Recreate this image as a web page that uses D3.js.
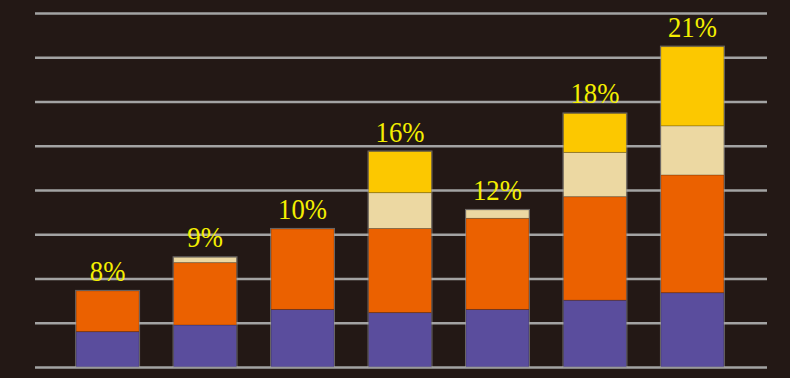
<!DOCTYPE html>
<html>
<head>
<meta charset="utf-8">
<script src="https://cdn.jsdelivr.net/npm/d3@7"></script>
<style>
  html, body { margin: 0; padding: 0; background: #231815; }
  svg { display: block; }
</style>
</head>
<body>
<div id="chart"></div>
<script>
// bar data (one grid step = 10)
var categories = ["A", "B", "C", "D", "E", "F", "G"];
var purple = [8.0, 9.5, 13.0, 12.3, 13.0, 15.1, 16.8];
var orange = [9.2, 14.1, 18.2, 19.0, 20.6, 23.4, 26.6];
var beige  = [0,   1.2, 0,    8.1,  1.9,  10.0, 11.1];
var yellow = [0,   0,   0,    9.3,  0,    8.8,  17.9];
var labels = ["8%", "9%", "10%", "16%", "12%", "18%", "21%"];
var gridTicks = [0, 10, 20, 30, 40, 50, 60, 70, 80];

var seriesKeys = ["purple", "orange", "beige", "yellow"];
var colors = {purple: "#5a4d9d", orange: "#eb6100", beige: "#ecd8a2", yellow: "#fcc800"};

var width = 790, height = 378;

var table = categories.map(function(c, i) {
    return {cat: c, purple: purple[i], orange: orange[i], beige: beige[i], yellow: yellow[i], label: labels[i]};
});

var svg = d3.select("#chart")
    .append("svg")
    .attr("width", width)
    .attr("height", height);

svg.append("rect")
    .attr("width", width)
    .attr("height", height)
    .attr("fill", "#231815");

var x = d3.scaleBand()
    .domain(categories)
    .range([42, 758])
    .paddingInner(0.354)
    .paddingOuter(0.35);

var y = d3.scaleLinear()
    .domain([0, 80])
    .range([367, 13]);

// grid lines
var grid = d3.axisLeft(y)
    .tickValues(gridTicks)
    .tickSize(-(767 - 35))
    .tickFormat("");

var gridG = svg.append("g")
    .attr("class", "grid")
    .attr("transform", "translate(767,0)")
    .call(grid);
gridG.attr("transform", "translate(35,0)");
gridG.select(".domain").remove();
gridG.selectAll(".tick line")
    .attr("x1", 0)
    .attr("x2", 767 - 35)
    .attr("stroke", "#a3a3a3")
    .attr("stroke-width", 2.6);

var stacked = d3.stack().keys(seriesKeys)(table);

var layers = svg.selectAll(".layer")
    .data(stacked)
    .enter()
    .append("g")
    .attr("class", "layer")
    .attr("fill", d => colors[d.key]);

layers.selectAll("rect")
    .data(d => d.filter(p => p[1] - p[0] > 0))
    .enter()
    .append("rect")
    .attr("x", d => x(d.data.cat))
    .attr("width", x.bandwidth())
    .attr("y", d => y(d[1]))
    .attr("height", d => y(d[0]) - y(d[1]))
    .attr("stroke", "rgba(0,0,0,0.18)")
    .attr("stroke-width", 1);

// light outline round each bar
svg.selectAll(".outline")
    .data(table)
    .enter()
    .append("rect")
    .attr("class", "outline")
    .attr("x", d => x(d.cat) - 0.5)
    .attr("width", x.bandwidth() + 1)
    .attr("y", d => y(d.purple + d.orange + d.beige + d.yellow) - 0.5)
    .attr("height", d => y(0) - y(d.purple + d.orange + d.beige + d.yellow) + 0.5)
    .attr("fill", "none")
    .attr("stroke", "rgba(170,170,170,0.55)")
    .attr("stroke-width", 1);

// percentage labels
svg.selectAll(".label")
    .data(table)
    .enter()
    .append("text")
    .attr("class", "label")
    .attr("transform", d => "translate(" + (x(d.cat) + x.bandwidth() / 2) + "," +
        (y(d.purple + d.orange + d.beige + d.yellow) - 10) + ") scale(0.89,1)")
    .attr("text-anchor", "middle")
    .attr("fill", "#f4ef00")
    .attr("font-family", "Liberation Serif, DejaVu Serif, serif")
    .attr("font-size", 30)
    .text(d => d.label);
</script>
</body>
</html>
